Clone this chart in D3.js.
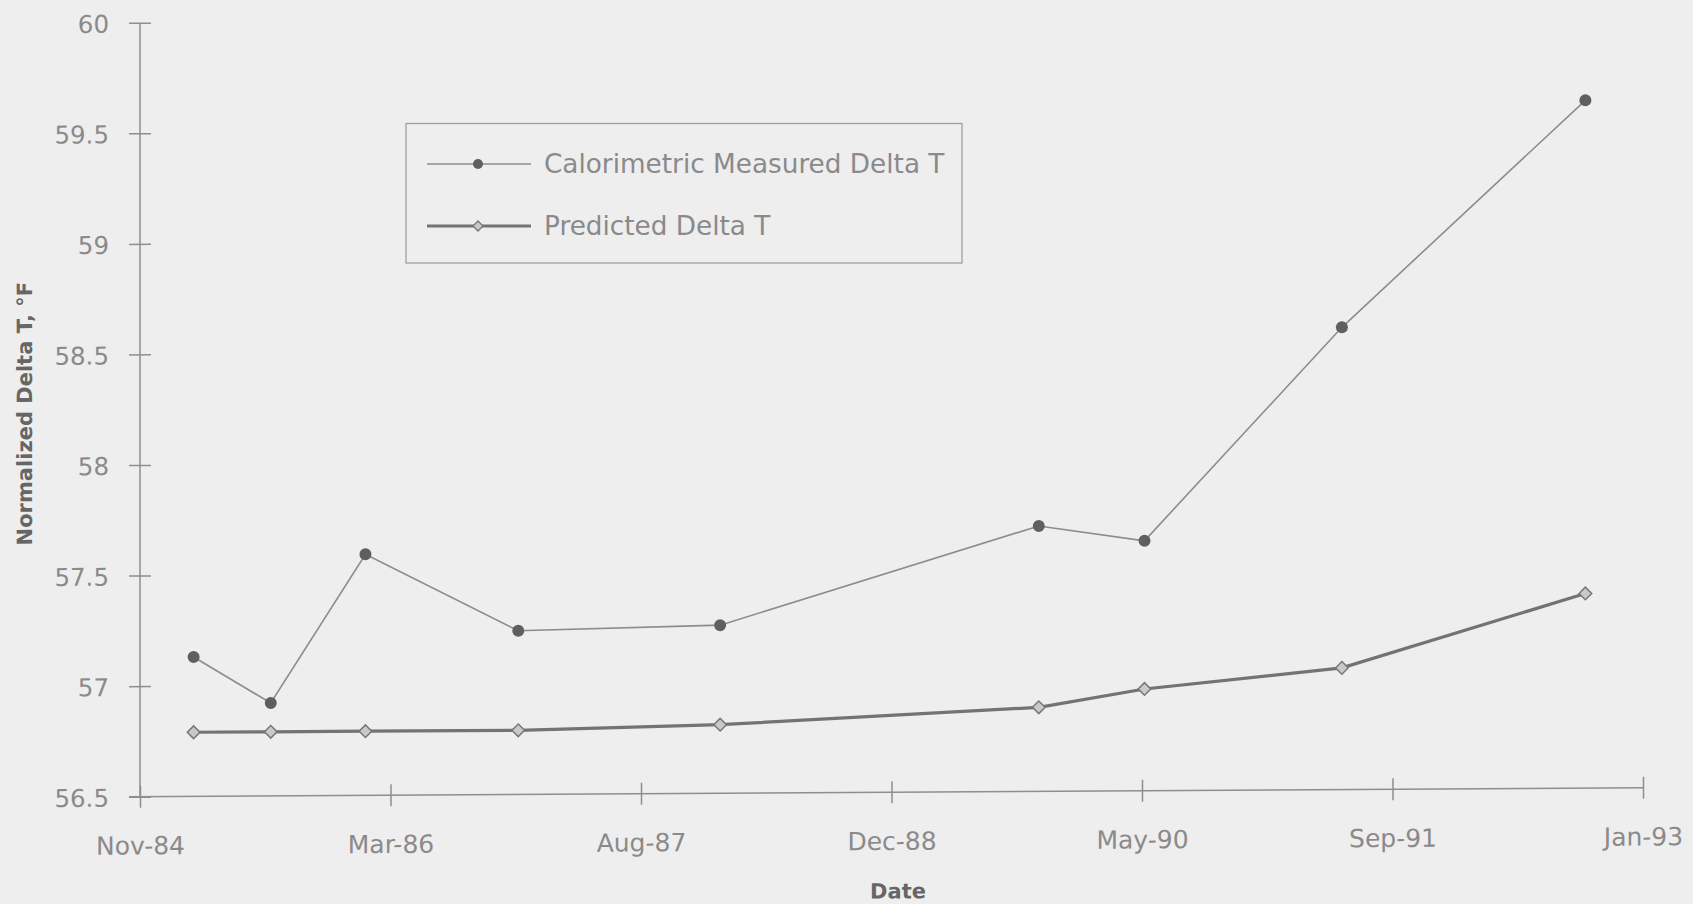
<!DOCTYPE html>
<html>
<head>
<meta charset="utf-8">
<script src="https://cdn.jsdelivr.net/npm/d3@7"></script>
<style>
  html, body { margin: 0; padding: 0; background: #eeeeee; }
  svg { display: block; }
  text { font-family: "DejaVu Sans", "Liberation Sans", sans-serif; }
</style>
</head>
<body>
<svg id="chart" width="1693" height="904"></svg>
<script>
// Survey dates of the calorimetric measurements
const surveyDates = [
  "1985-02-25", "1985-07-29", "1986-02-03", "1986-12-05", "1988-01-12",
  "1989-10-09", "1990-05-08", "1991-06-06", "1992-10-04"
];
// Normalized delta T, degrees F
const measuredDeltaT  = [57.13, 56.92, 57.59, 57.24, 57.26, 57.70, 57.63, 58.59, 59.61];
const predictedDeltaT = [56.79, 56.79, 56.79, 56.79, 56.81, 56.88, 56.96, 57.05, 57.38];

// Axis ticks
const xTickDates = ["1984-11-10", "1986-03-25", "1987-08-07", "1988-12-19", "1990-05-03", "1991-09-15", "1993-01-27"];
const yTickValues = [56.5, 57, 57.5, 58, 58.5, 59, 59.5, 60];

const seriesNames = ["Calorimetric Measured Delta T", "Predicted Delta T"];

const parse = d3.utcParse("%Y-%m-%d");
const dates = surveyDates.map(parse);
const xTicks = xTickDates.map(parse);

const plotLeft = 140, plotRight = 1643, plotTop = 22.7, plotBottom = 796.7;

const x = d3.scaleUtc().domain([xTicks[0], xTicks[xTicks.length - 1]]).range([plotLeft, plotRight]);
const y = d3.scaleLinear().domain([56.5, 60]).range([plotBottom, plotTop]);

const svg = d3.select("#chart");

const textCol = "#8a8a8a";
const axisCol = "#8e8e8e";

// Plot area is drawn slightly sheared, like the printed page
const plot = svg.append("g")
  .attr("transform", `translate(${plotLeft},${plotBottom}) skewY(-0.343) translate(${-plotLeft},${-plotBottom})`);

// Y axis (ticks cross the axis line)
const yAxis = plot.append("g").attr("transform", `translate(${plotLeft},0)`)
  .call(d3.axisLeft(y).tickValues(yTickValues).tickSize(11).tickSizeOuter(0).tickPadding(22)
        .tickFormat(d3.format("")));
yAxis.select(".domain").attr("stroke", axisCol).attr("stroke-width", 1.5)
  .attr("d", `M0,${plotTop}V${plotBottom}`);
yAxis.selectAll(".tick line").attr("stroke", axisCol).attr("stroke-width", 1.5)
  .attr("x1", 11).attr("x2", -11);
yAxis.selectAll(".tick text").attr("fill", textCol).attr("font-size", 24.5)
  .attr("x", -31).attr("dy", "0.38em");

// X axis
const xAxis = plot.append("g").attr("transform", `translate(0,${plotBottom})`)
  .call(d3.axisBottom(x).tickValues(xTicks).tickSize(11).tickSizeOuter(0)
        .tickFormat(d3.utcFormat("%b-%y")));
xAxis.select(".domain").attr("stroke", axisCol).attr("stroke-width", 1.5)
  .attr("d", `M${plotLeft - 11},0H${plotRight}`);
xAxis.selectAll(".tick line").attr("stroke", axisCol).attr("stroke-width", 1.5)
  .attr("y1", -11).attr("y2", 11);
xAxis.selectAll(".tick text").attr("fill", textCol).attr("font-size", 25)
  .attr("y", 49).attr("dy", "0.35em");

// Axis titles
plot.append("text")
  .attr("transform", `translate(25,413) rotate(-90)`)
  .attr("text-anchor", "middle").attr("dy", "0.35em")
  .attr("font-size", 21).attr("font-weight", "bold").attr("fill", "#666666")
  .text("Normalized Delta T, °F");
plot.append("text")
  .attr("x", 898).attr("y", 903).attr("text-anchor", "middle")
  .attr("font-size", 21).attr("font-weight", "bold").attr("fill", "#666666")
  .text("Date");

// Series
const measured = dates.map((d, i) => ({ d, v: measuredDeltaT[i] }));
const predicted = dates.map((d, i) => ({ d, v: predictedDeltaT[i] }));
const line = d3.line().x(p => x(p.d)).y(p => y(p.v));

plot.append("path").datum(predicted).attr("d", line)
  .attr("fill", "none").attr("stroke", "#737373").attr("stroke-width", 3.2);
plot.append("path").datum(measured).attr("d", line)
  .attr("fill", "none").attr("stroke", "#8c8c8c").attr("stroke-width", 1.6);

const diamond = d3.symbol().type(d3.symbolSquare).size(80);
plot.selectAll(".pred").data(predicted).join("path").attr("class", "pred")
  .attr("d", diamond)
  .attr("transform", p => `translate(${x(p.d)},${y(p.v)}) rotate(45)`)
  .attr("fill", "#c9c9c9").attr("stroke", "#777777").attr("stroke-width", 1.5);

plot.selectAll(".meas").data(measured).join("circle").attr("class", "meas")
  .attr("cx", p => x(p.d)).attr("cy", p => y(p.v)).attr("r", 6)
  .attr("fill", "#5f5f5f");

// Legend
const legend = svg.append("g");
legend.append("rect").attr("x", 406).attr("y", 123.5).attr("width", 556).attr("height", 139.5)
  .attr("fill", "none").attr("stroke", "#9a9a9a").attr("stroke-width", 1.2);
const rows = [164, 226];
// measured row
legend.append("line").attr("x1", 427).attr("x2", 531).attr("y1", rows[0]).attr("y2", rows[0])
  .attr("stroke", "#8c8c8c").attr("stroke-width", 1.6);
legend.append("circle").attr("cx", 478).attr("cy", rows[0]).attr("r", 5).attr("fill", "#5f5f5f");
// predicted row
legend.append("line").attr("x1", 427).attr("x2", 531).attr("y1", rows[1]).attr("y2", rows[1])
  .attr("stroke", "#737373").attr("stroke-width", 3);
legend.append("path").attr("d", d3.symbol().type(d3.symbolSquare).size(50))
  .attr("transform", `translate(478,${rows[1]}) rotate(45)`)
  .attr("fill", "#c9c9c9").attr("stroke", "#777777").attr("stroke-width", 1.3);
seriesNames.forEach((name, i) => {
  legend.append("text").attr("x", 544).attr("y", rows[i]).attr("dy", "0.36em")
    .attr("font-size", 26.3).attr("fill", textCol).text(name);
});
</script>
</body>
</html>
